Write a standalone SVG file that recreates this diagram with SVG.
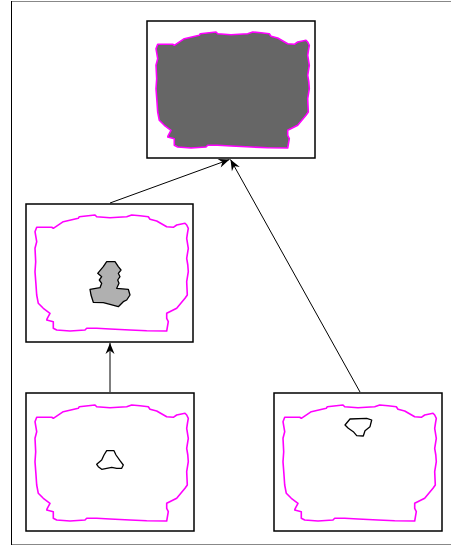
<svg xmlns="http://www.w3.org/2000/svg" xmlns:xlink="http://www.w3.org/1999/xlink" width="451" height="547" viewBox="0 0 451 547">
<style>
.box{fill:#ffffff;stroke:#000000;stroke-width:1.5}
.coast{fill:none;stroke:#ff00ff;stroke-width:1.6;stroke-linejoin:round}
.coast-filled{fill:#666666;stroke:#ff00ff;stroke-width:1.6;stroke-linejoin:round}
.blob{fill:#b0b0b0;stroke:#000000;stroke-width:1.3;stroke-linejoin:round}
.hole{fill:none;stroke:#000000;stroke-width:1.3;stroke-linejoin:round}
.edge{fill:none;stroke:#000000;stroke-width:1}
</style>
<defs>
<path id="shore" d="M10.7,24.3 L25.7,24.3 L27.3,25.3 L37.3,18.7 L52.3,15.3 L53.3,13.7 L69,12 L70.7,13.7 L84,14.7 L92,14.2 L100.7,13.7 L105.7,12 L114,12.8 L122.3,13.7 L124,16.3 L130.7,18 L140.7,23.7 L147.3,24.3 L150.7,22 L159,20.3 L160.7,22 L162.3,25.3 L161.5,30 L160.7,35.3 L162.3,45.3 L160.7,55.3 L161.8,62 L162.3,68.7 L160.7,78.7 L161.3,92 L159,95.3 L150.7,105.3 L140.7,110.3 L140.7,115.3 L142.3,118.7 L140.7,128 L120.7,127.7 L104,127 L84,126 L70.7,125.3 L60.7,125.3 L59,127 L44,128 L30.7,127 L27.3,125.3 L27.3,118.7 L20.7,117 L21.3,115.3 L24,110.3 L17.3,105.3 L12.3,100.3 L10.7,92 L10,82 L9,68.7 L9.7,58.7 L9,45.3 L10.7,38.7 L9,28.7 Z"/>
<marker id="arr" markerUnits="userSpaceOnUse" markerWidth="14" markerHeight="12" viewBox="-12 -6 13 12" refX="0" refY="0" orient="auto">
<path d="M0,0 L-11,-4.5 L-7.5,0 L-11,4.5 Z" fill="#000000"/>
</marker>
</defs>
<g id="frame">
<line x1="11" y1="1.5" x2="451" y2="1.5" stroke="#888888" stroke-width="1"/>
<line x1="11" y1="544.5" x2="451" y2="544.5" stroke="#888888" stroke-width="1"/>
<line x1="11.5" y1="1" x2="11.5" y2="545" stroke="#000000" stroke-width="1"/>
</g>
<g id="node-top">
<rect class="box" x="147" y="21" width="168" height="137"/>
<use xlink:href="#shore" class="coast-filled" transform="translate(147,20)"/>
</g>
<g id="node-mid">
<rect class="box" x="26" y="204" width="167" height="138"/>
<use xlink:href="#shore" class="coast" transform="translate(26,203)"/>
<path class="blob" d="M106.7,261.7 L115,261.7 L118.3,266.7 L121,270 L118.3,273.3 L120,276.7 L117.7,280 L119,283.3 L116.7,288.3 L128.3,289.3 L130,295 L126.7,300 L123.3,301.7 L118.3,306.7 L110,304.3 L103.3,302.7 L93.3,302.3 L91,295 L90,289.3 L100,287.7 L101.7,283.3 L99.3,280 L101.7,276.7 L97.7,273.3 L103.3,266.7 Z"/>
</g>
<g id="node-bl">
<rect class="box" x="26" y="393" width="168" height="138"/>
<use xlink:href="#shore" class="coast" transform="translate(26,393)"/>
<path class="hole" d="M106.7,450.7 L114,450.7 L116,455 L120,460.7 L123.3,465 L121.7,468.3 L116.7,468.3 L111.7,467.3 L106.7,468.3 L101.7,469.3 L98.3,466.7 L96.7,464.3 L101.7,460 L104,455 Z"/>
</g>
<g id="node-br">
<rect class="box" x="274" y="393" width="168" height="138"/>
<use xlink:href="#shore" class="coast" transform="translate(274,393)"/>
<path class="hole" d="M350,419 L366.7,418.3 L371.7,420 L370,426.7 L365,430.7 L363.3,436 L356.7,435.7 L353.3,431.7 L348.3,428.3 L345,425 Z"/>
</g>
<g id="connectors">
<line class="edge" x1="110" y1="392" x2="110" y2="343" marker-end="url(#arr)"/>
<line class="edge" x1="110" y1="203" x2="229.5" y2="159.5" marker-end="url(#arr)"/>
<line class="edge" x1="360" y1="392" x2="230.5" y2="159.5" marker-end="url(#arr)"/>
</g>
</svg>
